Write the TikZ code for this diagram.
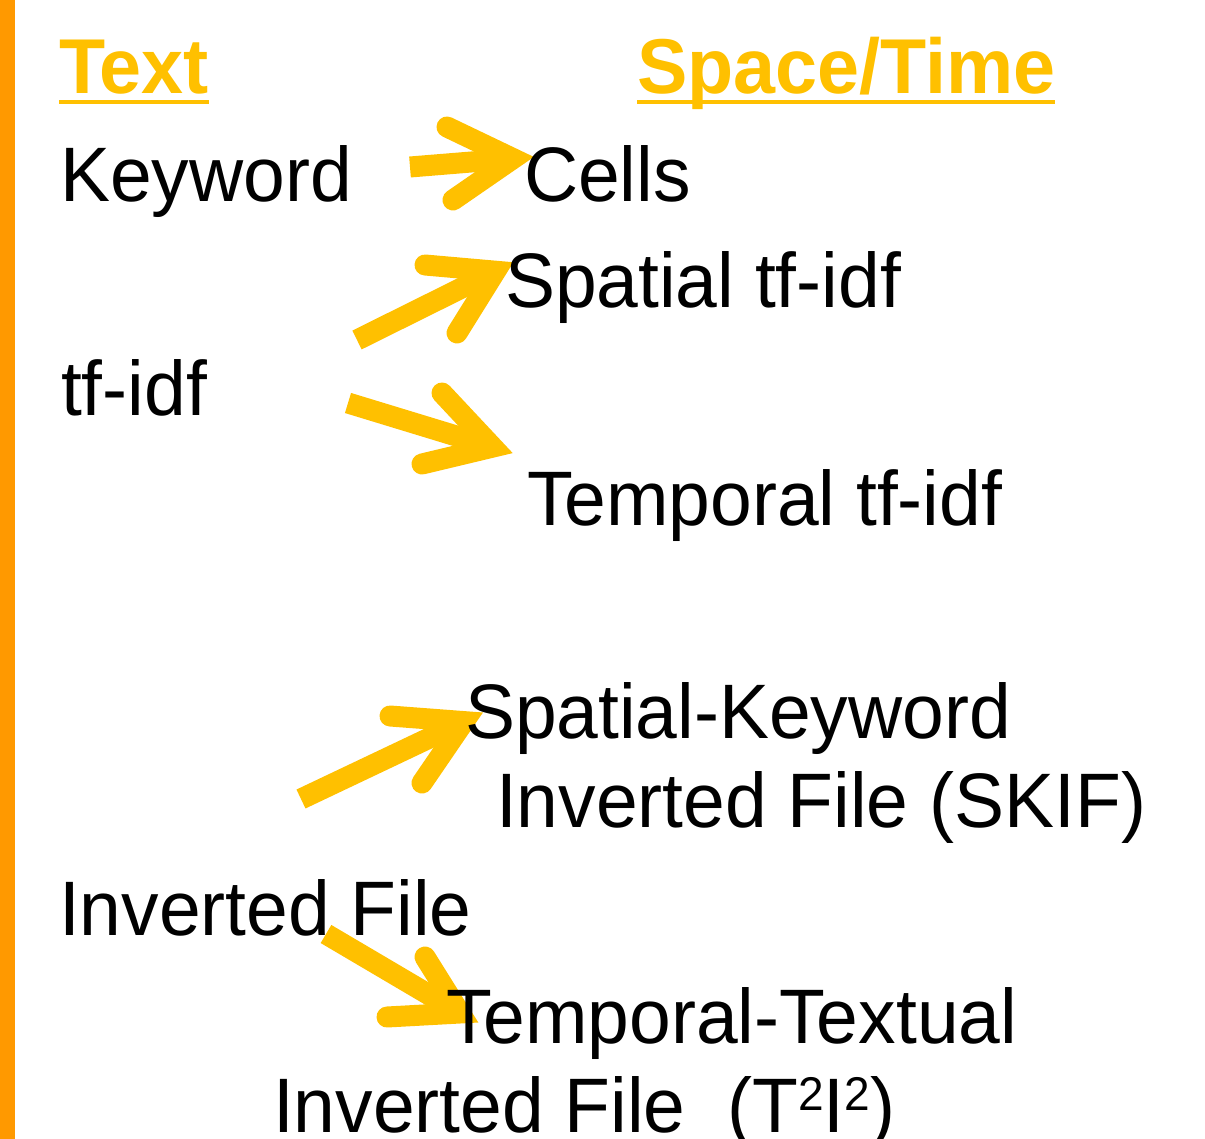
\documentclass[tikz,border=0pt]{standalone}
\usepackage{fontspec}
\setmainfont{Liberation Sans}
\definecolor{gold}{RGB}{255,192,0}
\definecolor{barorange}{RGB}{255,153,0}
\newcommand{\vstr}[1]{\scalebox{1}[1.03]{#1}}
\newcommand{\supt}{{\fontsize{46}{50}\selectfont\raisebox{21pt}{2}}}
\begin{document}
\begin{tikzpicture}[x=1pt,y=-1pt,
  lbl/.style={anchor=base west, inner sep=0pt, outer sep=0pt,
              font=\fontsize{75}{80}\selectfont, text=black},
  headlbl/.style={lbl, font=\fontsize{75.5}{80}\selectfont\bfseries, text=gold},
  uline/.style={draw=gold, line width=4.5pt},
  shaft/.style={draw=gold, line width=21pt, line cap=butt},
  chevron/.style={draw=gold, line width=21pt, line cap=round, line join=miter, miter limit=10}]
\useasboundingbox (0,0) rectangle (1205,1139);
\fill[barorange] (0,0) rectangle (15,1139);

% headings
\node[headlbl] (htext) at (59,94) {\vstr{Text}};
\node[headlbl] (hst) at (637,94) {\vstr{Space/Time}};
\draw[uline] ([yshift=-8pt]htext.base west) -- ([yshift=-8pt]htext.base east);
\draw[uline] ([yshift=-8pt]hst.base west) -- ([yshift=-8pt]hst.base east);

% left text lying under an arrow
\node[lbl] (inv) at (59,935) {\vstr{Inverted File}};

% arrow coordinates
\coordinate (a1s) at (410,167);   \coordinate (a1t) at (513,158.6);
\coordinate (a1u) at (447,127);   \coordinate (a1l) at (453,200);
\coordinate (a2s) at (357,340);   \coordinate (a2t) at (495.5,271.2);
\coordinate (a2u) at (425,265);   \coordinate (a2l) at (457,333);
\coordinate (a3s) at (348,403);   \coordinate (a3t) at (492.7,447.1);
\coordinate (a3u) at (442,393);   \coordinate (a3l) at (422,464);
\coordinate (a4s) at (301,799);   \coordinate (a4t) at (464,721.6);
\coordinate (a4u) at (390,716);   \coordinate (a4l) at (422,783);
\coordinate (a5s) at (326,934);   \coordinate (a5t) at (460,1013);
\coordinate (a5u) at (425,957);   \coordinate (a5l) at (387,1017);

\foreach \a in {a1,a2,a3,a4,a5}{
  \draw[shaft] (\a s) -- (\a t);
  \draw[chevron] (\a u) -- (\a t) -- (\a l);
}

% other texts
\node[lbl] (kw) at (60,202) {\vstr{Keyword}};
\node[lbl] (cells) at (524,202) {\vstr{Cells}};
\node[lbl] (stfidf) at (505,308) {\vstr{Spatial tf-idf}};
\node[lbl] (tfidf) at (61,416) {\vstr{tf-idf}};
\node[lbl] (ttfidf) at (527,525) {\vstr{Temporal tf-idf}};
\node[lbl] (skw) at (465,738) {\vstr{Spatial-Keyword}};
\node[lbl] (skif) at (496,827) {\vstr{Inverted File (SKIF)}};
\node[lbl] (tt) at (446,1043) {\vstr{Temporal-Textual}};
\node[lbl] (t2i2) at (273,1132) {\vstr{Inverted File\ \ (T\supt I\supt)}};
\end{tikzpicture}
\end{document}
